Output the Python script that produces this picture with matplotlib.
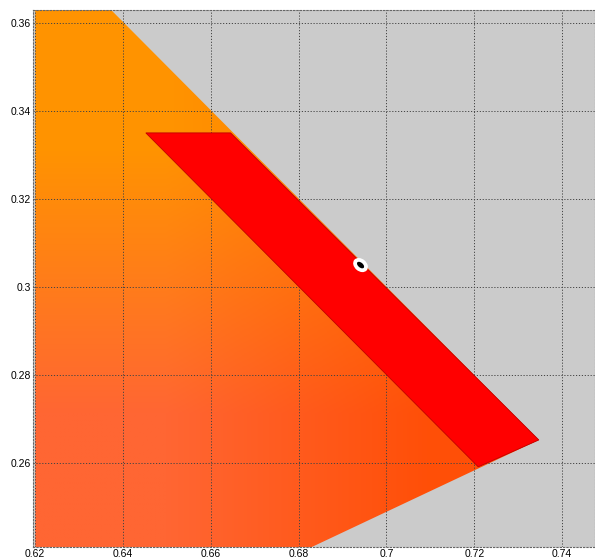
import numpy as np
import matplotlib.pyplot as plt
from matplotlib.patches import Polygon, Ellipse

plt.rcParams['font.family'] = ['Liberation Sans', 'DejaVu Sans']

# gamut outline: spectral locus edge then the purple line
gamut_x = [0.6373, 0.7347, 0.683, 0.62, 0.62]
gamut_y = [0.3629, 0.2653, 0.241, 0.241, 0.3629]

# red region
red_x = [0.6452, 0.6645, 0.7347, 0.7209]
red_y = [0.335, 0.335, 0.2653, 0.2592]

# white point marker
pt_x, pt_y = 0.6941, 0.305

xticks = [0.62, 0.64, 0.66, 0.68, 0.70, 0.72, 0.74]
xlabels = ['0.62', '0.64', '0.66', '0.68', '0.7', '0.72', '0.74']
yticks = [0.26, 0.28, 0.30, 0.32, 0.34, 0.36]
ylabels = ['0.26', '0.28', '0.3', '0.32', '0.34', '0.36']

xlim = (0.6195, 0.7475)
ylim = (0.241, 0.3629)

fig = plt.figure(figsize=(5.95, 5.59), dpi=100)
ax = fig.add_axes([33 / 595, 12 / 559, 562 / 595, 537 / 559])
ax.set_facecolor('#cbcbcb')

# orange gradient clipped to the gamut
grad = np.array([[[1.0, 0.40, 0.20], [1.0, 0.31, 0.03]],
                 [[1.0, 0.58, 0.0], [1.0, 0.47, 0.0]]])
im = ax.imshow(grad, extent=[0.62, 0.74, 0.241, 0.3629], origin='lower',
               interpolation='bilinear', aspect='auto', zorder=1)
gamut = Polygon(list(zip(gamut_x, gamut_y)), closed=True, facecolor='none',
                edgecolor='none')
ax.add_patch(gamut)
im.set_clip_path(gamut)

ax.add_patch(Polygon(list(zip(red_x, red_y)), closed=True, facecolor='#ff0000',
                     edgecolor='#c00000', linewidth=0.6, zorder=3))

ax.add_patch(Ellipse((pt_x, pt_y), 0.0037, 0.0028, angle=-40,
                     facecolor='white', edgecolor='none', zorder=4))
ax.add_patch(Ellipse((pt_x, pt_y), 0.0019, 0.0011, angle=-40,
                     facecolor='black', edgecolor='none', zorder=5))

ax.set_xlim(*xlim)
ax.set_ylim(*ylim)
ax.set_xticks(xticks)
ax.set_xticklabels(xlabels)
ax.set_yticks(yticks)
ax.set_yticklabels(ylabels)
ax.tick_params(length=0, labelsize=7.5, pad=1.5)
ax.grid(True, color='#444444', linestyle=(0, (1.2, 1.8)), linewidth=0.7, zorder=2)
ax.set_axisbelow(False)
for s in ax.spines.values():
    s.set_linestyle((0, (1.2, 1.8)))
    s.set_color('#666666')
    s.set_linewidth(0.8)

fig.savefig('out.png', dpi=100)
